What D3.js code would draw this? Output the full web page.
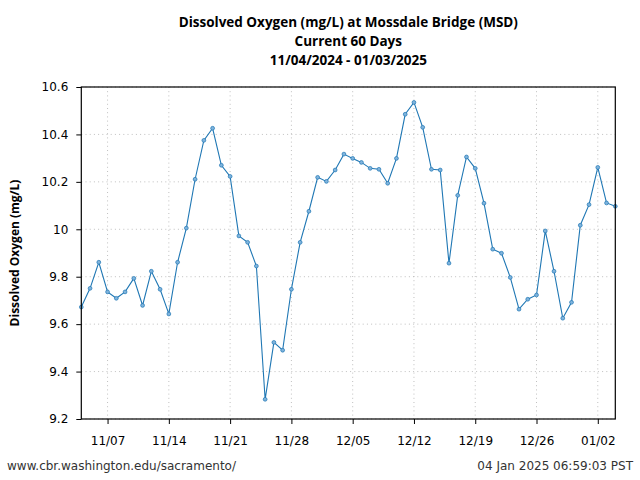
<!DOCTYPE html>
<html><head><meta charset="utf-8">
<script src="https://cdn.jsdelivr.net/npm/d3@7"></script>
<style>body{margin:0;background:#fff}svg{display:block}</style>
</head><body>
<svg id="c" width="640" height="480"></svg>
<script>
const startDate = "2024-11-04";
const doValues = [9.672,9.751,9.861,9.736,9.709,9.736,9.793,9.679,9.823,9.747,9.643,9.861,
10.005,10.211,10.375,10.426,10.270,10.223,9.972,9.945,9.845,9.283,9.523,9.490,9.747,9.945,
10.076,10.219,10.202,10.250,10.317,10.299,10.282,10.257,10.253,10.194,10.299,10.485,10.535,
10.430,10.253,10.250,9.857,10.143,10.305,10.257,10.110,9.916,9.899,9.797,9.663,9.705,9.723,
9.993,9.823,9.625,9.692,10.017,10.104,10.261,10.111,10.097];
const yTicks = [9.2,9.4,9.6,9.8,10,10.2,10.4,10.6];
const xTickDates = ["2024-11-07","2024-11-14","2024-11-21","2024-11-28","2024-12-05","2024-12-12","2024-12-19","2024-12-26","2025-01-02"];
const titleLines = ["Dissolved Oxygen (mg/L) at Mossdale Bridge (MSD)","Current 60 Days","11/04/2024 - 01/03/2025"];
const yLabel = "Dissolved Oxygen (mg/L)";
const footLeft = "www.cbr.washington.edu/sacramento/";
const footRight = "04 Jan 2025 06:59:03 PST";

const parse = d3.utcParse("%Y-%m-%d");
const t0 = parse(startDate);
const data = doValues.map((v,i)=>({d:d3.utcDay.offset(t0,i), v}));

const svg = d3.select("#c");
const L=81.3, R=615.3, T=87, B=419;
const x = d3.scaleUtc().domain([t0, d3.utcDay.offset(t0, doValues.length-1)]).range([L,R]);
const y = d3.scaleLinear().domain([9.2,10.6]).range([B,T]);
const xt = xTickDates.map(parse);

// grid
const g = svg.append("g");
g.selectAll(".gx").data(xt).join("line")
 .attr("x1",d=>x(d)).attr("x2",d=>x(d)).attr("y1",T).attr("y2",B)
 .attr("stroke","#b0b0b0").attr("stroke-width",0.8).attr("stroke-dasharray","1,3.2");
g.selectAll(".gy").data(yTicks).join("line")
 .attr("x1",L).attr("x2",R).attr("y1",d=>y(d)).attr("y2",d=>y(d))
 .attr("stroke","#b0b0b0").attr("stroke-width",0.8).attr("stroke-dasharray","1,3.2");

// axes
const xa = svg.append("g").attr("transform",`translate(0,${B})`)
 .call(d3.axisBottom(x).tickValues(xt).tickFormat(d3.utcFormat("%m/%d")).tickSize(5).tickPadding(12));
const ya = svg.append("g").attr("transform",`translate(${L},0)`)
 .call(d3.axisLeft(y).tickValues(yTicks).tickFormat(d=>d3.format("")(+d.toFixed(1))).tickSize(5).tickPadding(8));
[xa,ya].forEach(a=>{a.select(".domain").remove();
 a.selectAll("text").attr("font-family","DejaVu Sans").attr("font-size",12).attr("fill","#000");
 a.selectAll("line").attr("stroke","#000").attr("stroke-width",1);});

// line
svg.append("path").datum(data)
 .attr("d", d3.line().x(d=>x(d.d)).y(d=>y(d.v)))
 .attr("fill","none").attr("stroke","#1f77b4").attr("stroke-width",1.1);
svg.append("g").selectAll("circle").data(data).join("circle")
 .attr("cx",d=>x(d.d)).attr("cy",d=>y(d.v)).attr("r",1.9)
 .attr("fill","#7fb3dc").attr("stroke","#1f77b4").attr("stroke-width",0.7);

// frame
svg.append("rect").attr("x",L).attr("y",T).attr("width",R-L).attr("height",B-T)
 .attr("fill","none").attr("stroke","#000").attr("stroke-width",1.2);

// title
svg.append("g").selectAll("text").data(titleLines).join("text")
 .attr("x",(L+R)/2).attr("y",(d,i)=>27+i*19).attr("text-anchor","middle")
 .attr("font-family","Open Sans").attr("font-weight","bold").attr("font-size",13.5).attr("fill","#000")
 .text(d=>d);
svg.append("text").attr("transform","translate(19,253) rotate(-90)").attr("text-anchor","middle")
 .attr("font-family","Open Sans").attr("font-weight","bold").attr("font-size",12).attr("fill","#000").text(yLabel);

svg.append("text").attr("x",7).attr("y",470).attr("font-family","DejaVu Sans").attr("font-size",12).attr("fill","#333").text(footLeft);
svg.append("text").attr("x",633).attr("y",470).attr("text-anchor","end").attr("font-family","DejaVu Sans").attr("font-size",12).attr("fill","#333").text(footRight);
</script>
</body></html>
